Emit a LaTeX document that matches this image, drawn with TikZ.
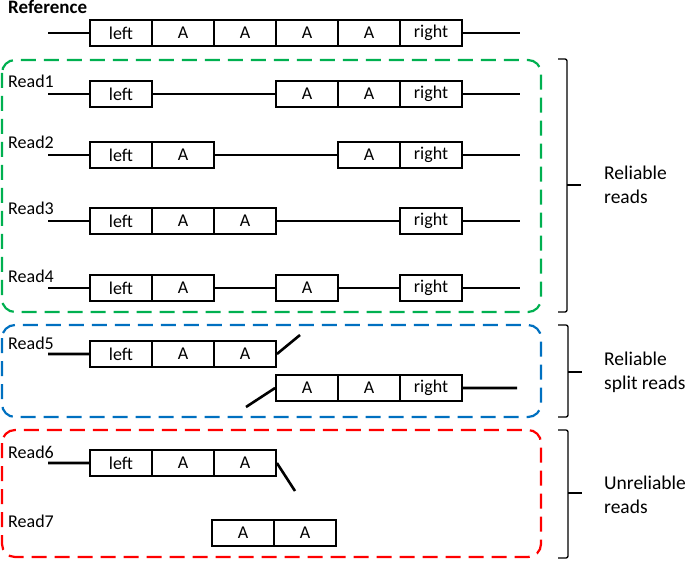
\documentclass[tikz,border=0pt]{standalone}
\usepackage{fontspec}
\setmainfont{Carlito}
\usetikzlibrary{positioning}

\definecolor{grpgreen}{RGB}{0,176,80}
\definecolor{grpblue}{RGB}{0,112,192}
\definecolor{grpred}{RGB}{255,0,0}

\begin{document}
\begin{tikzpicture}[x=1pt,y=-1pt,
    seg/.style={draw, line width=1.8pt, minimum width=62pt, minimum height=26pt,
      inner sep=0pt, font=\fontsize{18}{20}\selectfont},
    read/.style={line width=2.6pt},
    lab/.style={anchor=base west, inner sep=0pt, font=\fontsize{18}{20}\selectfont},
    grp/.style={line width=2.2pt, rounded corners=13pt, dash pattern=on 15pt off 8pt},
    brk/.style={line width=1.3pt, rounded corners=2pt},
    side/.style={align=left, anchor=west, inner sep=0pt, font=\fontsize{19.5}{24}\selectfont}]
  \useasboundingbox (0,0) rectangle (685,561);

  % reference
  \node[lab, font=\fontsize{19}{20}\selectfont\bfseries] (reflab) at (8,14) {Reference};
  \coordinate (ref0) at (48,33);
  \coordinate (ref9) at (520,33);
  \node[seg] (refl) at (121,33) {left};
  \node[seg] (refa) at (183,33) {A};
  \node[seg] (refb) at (245,33) {A};
  \node[seg] (refc) at (307,33) {A};
  \node[seg] (refd) at (369,33) {A};
  \node[seg] (refr) at (431,33) {right};
  \draw[read] (ref0) -- (refl.west) (refr.east) -- (ref9);

  % reliable reads
  \draw[grp, grpgreen] (2,60) rectangle (541,312);
  \node[lab] (r1lab) at (8,88) {Read1};
  \coordinate (r10) at (48,94);
  \coordinate (r19) at (520,94);
  \node[seg] (r1l) at (121,94) {left};
  \node[seg] (r1a) at (307,94) {A};
  \node[seg] (r1b) at (369,94) {A};
  \node[seg] (r1r) at (431,94) {right};
  \draw[read] (r10) -- (r1l.west) (r1l.east) -- (r1a.west) (r1r.east) -- (r19);

  \node[lab] (r2lab) at (8,149) {Read2};
  \coordinate (r20) at (48,155);
  \coordinate (r29) at (520,155);
  \node[seg] (r2l) at (121,155) {left};
  \node[seg] (r2a) at (183,155) {A};
  \node[seg] (r2b) at (369,155) {A};
  \node[seg] (r2r) at (431,155) {right};
  \draw[read] (r20) -- (r2l.west) (r2a.east) -- (r2b.west) (r2r.east) -- (r29);

  \node[lab] (r3lab) at (8,215) {Read3};
  \coordinate (r30) at (48,221);
  \coordinate (r39) at (520,221);
  \node[seg] (r3l) at (121,221) {left};
  \node[seg] (r3a) at (183,221) {A};
  \node[seg] (r3b) at (245,221) {A};
  \node[seg] (r3r) at (431,221) {right};
  \draw[read] (r30) -- (r3l.west) (r3b.east) -- (r3r.west) (r3r.east) -- (r39);

  \node[lab] (r4lab) at (8,283) {Read4};
  \coordinate (r40) at (48,288);
  \coordinate (r49) at (520,288);
  \node[seg] (r4l) at (121,288) {left};
  \node[seg] (r4a) at (183,288) {A};
  \node[seg] (r4b) at (307,288) {A};
  \node[seg] (r4r) at (431,288) {right};
  \draw[read] (r40) -- (r4l.west) (r4a.east) -- (r4b.west) (r4b.east) -- (r4r.west)
    (r4r.east) -- (r49);

  % reliable split reads
  \draw[grp, grpblue] (2,325) rectangle (541,417);
  \node[lab] (r5lab) at (8,349) {Read5};
  \coordinate (r50) at (48,354);
  \coordinate (r5up) at (300,335);
  \node[seg] (r5l) at (121,354) {left};
  \node[seg] (r5a) at (183,354) {A};
  \node[seg] (r5b) at (245,354) {A};
  \draw[read] (r50) -- (r5l.west) (r5b.east) -- (r5up);
  \coordinate (r5dn) at (246,407);
  \coordinate (r59) at (517,388);
  \node[seg] (r5c) at (307,388) {A};
  \node[seg] (r5d) at (369,388) {A};
  \node[seg] (r5r) at (431,388) {right};
  \draw[read] (r5dn) -- (r5c.west) (r5r.east) -- (r59);

  % unreliable reads
  \draw[grp, grpred] (2,430) rectangle (541,557);
  \node[lab] (r6lab) at (8,458) {Read6};
  \coordinate (r60) at (48,463);
  \coordinate (r6dn) at (295,491);
  \node[seg] (r6l) at (121,463) {left};
  \node[seg] (r6a) at (183,463) {A};
  \node[seg] (r6b) at (245,463) {A};
  \draw[read] (r60) -- (r6l.west) (r6b.east) -- (r6dn);

  \node[lab] (r7lab) at (8,527) {Read7};
  \node[seg] (r7a) at (243,533) {A};
  \node[seg] (r7b) at (305,533) {A};

  % brackets
  \draw[brk] (558,59) -- (567,59) -- (567,312) -- (558,312);
  \draw[brk] (567,185) -- (581,185);
  \node[side] (relab) at (604,185) {Reliable\\reads};
  \draw[brk] (558,325) -- (568,325) -- (568,417) -- (558,417);
  \draw[brk] (568,372) -- (582,372);
  \node[side] (splab) at (604,372) {Reliable\\split reads};
  \draw[brk] (558,430) -- (568,430) -- (568,558) -- (558,558);
  \draw[brk] (568,493) -- (582,493);
  \node[side] (unlab) at (604,495) {Unreliable\\reads};
\end{tikzpicture}
\end{document}
